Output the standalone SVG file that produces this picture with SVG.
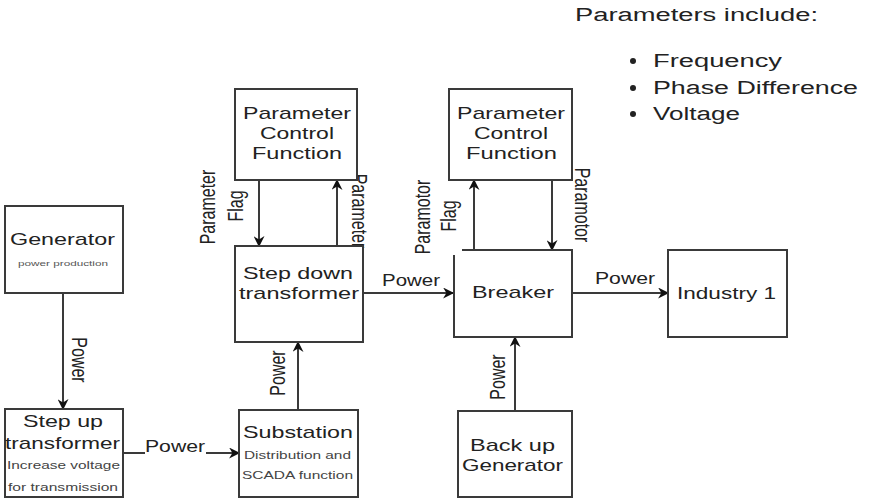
<svg xmlns="http://www.w3.org/2000/svg" width="871" height="502" viewBox="0 0 871 502">
<style>
  .box { fill: #ffffff; stroke: #3a3a3a; stroke-width: 2; }
  .t { font-family: "Liberation Sans", Arial, sans-serif; fill: #222222; font-size: 17px; }
  .s { font-family: "Liberation Sans", Arial, sans-serif; fill: #444444; font-size: 11px; }
  .xs { font-family: "Liberation Sans", Arial, sans-serif; fill: #555555; font-size: 8px; }
  .lbl { font-family: "Liberation Sans", Arial, sans-serif; fill: #222222; font-size: 16px; }
  .rl { font-family: "Liberation Sans", Arial, sans-serif; fill: #222222; font-size: 16px; text-anchor: middle; }
  .hd { font-family: "Liberation Sans", Arial, sans-serif; fill: #222222; font-size: 18px; }
  .edge { fill: none; stroke: #3a3a3a; stroke-width: 2; marker-end: url(#arr); }
</style>
<defs>
  <marker id="arr" viewBox="0 0 10 10" refX="9" refY="5" markerWidth="12" markerHeight="11" markerUnits="userSpaceOnUse" orient="auto">
    <path d="M0,0 L10,5 L0,10 L3,5 Z" fill="#111111"/>
  </marker>
</defs>
<rect width="871" height="502" fill="#ffffff"/>

<g id="legend">
  <text class="hd" x="575" y="21" textLength="243" lengthAdjust="spacingAndGlyphs">Parameters include:</text>
  <circle cx="633" cy="61" r="3" fill="#222222"/>
  <circle cx="633" cy="88" r="3" fill="#222222"/>
  <circle cx="633" cy="114" r="3" fill="#222222"/>
  <text class="hd" x="653" y="67" textLength="129" lengthAdjust="spacingAndGlyphs">Frequency</text>
  <text class="hd" x="653" y="94" textLength="205" lengthAdjust="spacingAndGlyphs">Phase Difference</text>
  <text class="hd" x="653" y="120" textLength="87" lengthAdjust="spacingAndGlyphs">Voltage</text>
</g>

<g id="connectors">
  <line class="edge" x1="63" y1="293" x2="63" y2="409"/>
  <path class="edge" d="M123,453 H145 M206,453 H239"/>
  <line class="edge" x1="298" y1="410" x2="298" y2="342"/>
  <line class="edge" x1="259" y1="180" x2="259" y2="246"/>
  <line class="edge" x1="337" y1="246" x2="337" y2="180"/>
  <line class="edge" x1="363" y1="293" x2="453" y2="293"/>
  <line class="edge" x1="474" y1="250" x2="474" y2="180"/>
  <line class="edge" x1="552" y1="180" x2="552" y2="250"/>
  <line class="edge" x1="572" y1="293" x2="668" y2="293"/>
  <line class="edge" x1="515" y1="411" x2="515" y2="337"/>

  <text class="rl" x="0" y="6" transform="translate(80,360) scale(1.37,1) rotate(90)">Power</text>
  <text class="lbl" x="145" y="452" textLength="60" lengthAdjust="spacingAndGlyphs">Power</text>
  <text class="rl" x="0" y="6" transform="translate(277,373) scale(1.37,1) rotate(-90)">Power</text>
  <text class="rl" x="0" y="6" transform="translate(207,207) scale(1.37,1) rotate(-90)">Parameter</text>
  <text class="rl" x="0" y="6" transform="translate(235,206) scale(1.37,1) rotate(-90)">Flag</text>
  <text class="rl" x="0" y="6" transform="translate(360,211) scale(1.37,1) rotate(90)">Parameter</text>
  <text class="lbl" x="382" y="286" textLength="58" lengthAdjust="spacingAndGlyphs">Power</text>
  <text class="rl" x="0" y="6" transform="translate(422,217) scale(1.37,1) rotate(-90)">Paramotor</text>
  <text class="rl" x="0" y="6" transform="translate(448,216) scale(1.37,1) rotate(-90)">Flag</text>
  <text class="rl" x="0" y="6" transform="translate(583,205) scale(1.37,1) rotate(90)">Paramotor</text>
  <text class="lbl" x="595" y="284" textLength="60" lengthAdjust="spacingAndGlyphs">Power</text>
  <text class="rl" x="0" y="6" transform="translate(497,377) scale(1.37,1) rotate(-90)">Power</text>
</g>

<g id="generator">
  <rect class="box" x="5" y="206" width="118" height="87"/>
  <text class="t" x="10" y="245" textLength="105" lengthAdjust="spacingAndGlyphs">Generator</text>
  <text class="xs" x="18" y="266" textLength="90" lengthAdjust="spacingAndGlyphs">power production</text>
</g>

<g id="step-up">
  <rect class="box" x="5" y="409" width="118" height="88"/>
  <text class="t" x="23" y="427" textLength="80" lengthAdjust="spacingAndGlyphs">Step up</text>
  <text class="t" x="5" y="449" textLength="115" lengthAdjust="spacingAndGlyphs">transformer</text>
  <text class="s" x="7" y="469" textLength="113" lengthAdjust="spacingAndGlyphs">Increase voltage</text>
  <text class="s" x="8" y="491" textLength="110" lengthAdjust="spacingAndGlyphs">for transmission</text>
</g>

<g id="substation">
  <rect class="box" x="239" y="410" width="119" height="87"/>
  <text class="t" x="243" y="438" textLength="110" lengthAdjust="spacingAndGlyphs">Substation</text>
  <text class="s" x="244" y="459" textLength="107" lengthAdjust="spacingAndGlyphs">Distribution and</text>
  <text class="s" x="242" y="479" textLength="111" lengthAdjust="spacingAndGlyphs">SCADA function</text>
</g>

<g id="step-down">
  <rect class="box" x="235" y="246" width="128" height="96"/>
  <text class="t" x="243" y="279" textLength="110" lengthAdjust="spacingAndGlyphs">Step down</text>
  <text class="t" x="239" y="299" textLength="120" lengthAdjust="spacingAndGlyphs">transformer</text>
</g>

<g id="pcf-1">
  <rect class="box" x="235" y="89" width="122" height="91"/>
  <text class="t" x="243" y="119" textLength="108" lengthAdjust="spacingAndGlyphs">Parameter</text>
  <text class="t" x="260" y="139" textLength="74" lengthAdjust="spacingAndGlyphs">Control</text>
  <text class="t" x="252" y="159" textLength="90" lengthAdjust="spacingAndGlyphs">Function</text>
</g>

<g id="pcf-2">
  <rect class="box" x="449" y="89" width="123" height="91"/>
  <text class="t" x="457" y="119" textLength="108" lengthAdjust="spacingAndGlyphs">Parameter</text>
  <text class="t" x="474" y="139" textLength="74" lengthAdjust="spacingAndGlyphs">Control</text>
  <text class="t" x="466" y="159" textLength="91" lengthAdjust="spacingAndGlyphs">Function</text>
</g>

<g id="breaker">
  <path class="box" d="M462,250 H572 V337 H454 V255"/>
  <text class="t" x="472" y="298" textLength="82" lengthAdjust="spacingAndGlyphs">Breaker</text>
</g>

<g id="industry-1">
  <rect class="box" x="668" y="250" width="119" height="87"/>
  <text class="t" x="677" y="299" textLength="99" lengthAdjust="spacingAndGlyphs">Industry 1</text>
</g>

<g id="backup-generator">
  <rect class="box" x="458" y="411" width="114" height="86"/>
  <text class="t" x="470" y="451" textLength="85" lengthAdjust="spacingAndGlyphs">Back up</text>
  <text class="t" x="462" y="471" textLength="101" lengthAdjust="spacingAndGlyphs">Generator</text>
</g>
</svg>
